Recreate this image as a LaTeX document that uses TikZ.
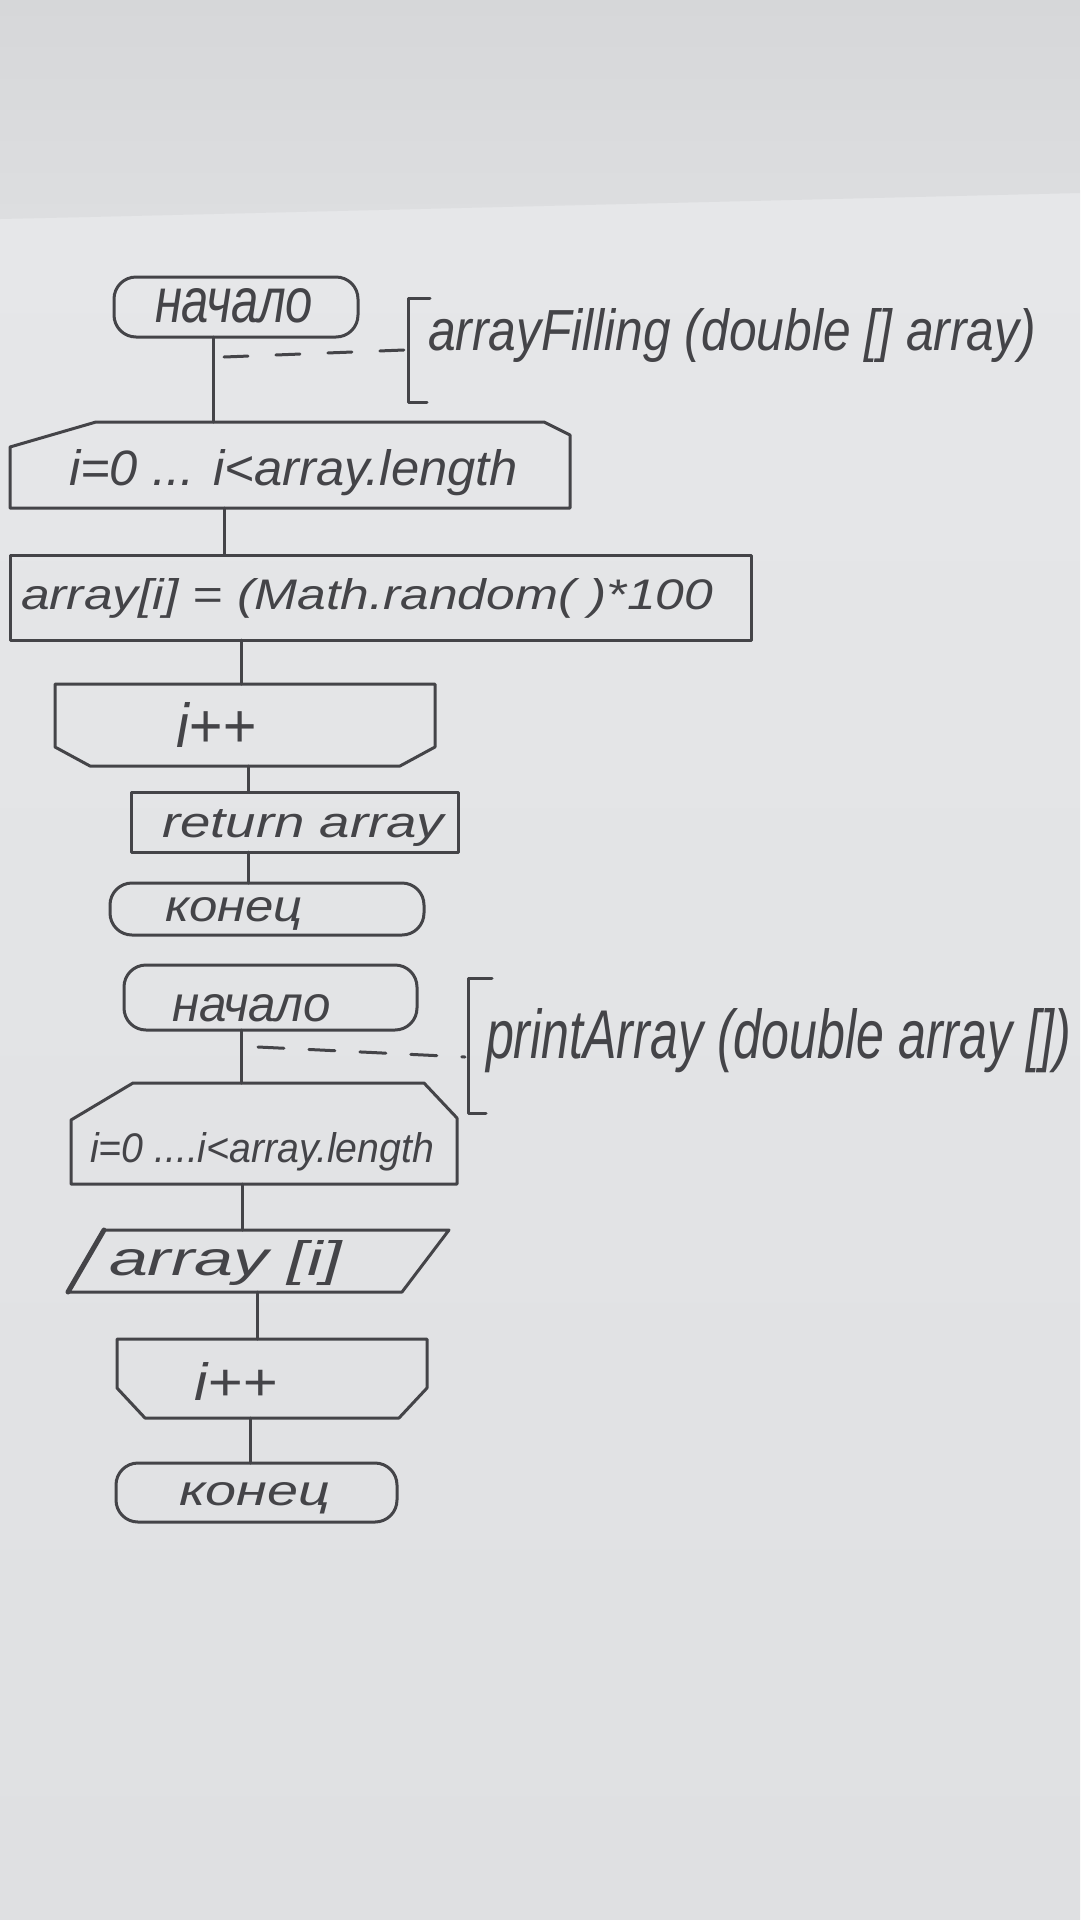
\documentclass[tikz,border=0pt]{standalone}
\usepackage{fontspec}
\setmainfont{Liberation Sans}
\usepackage{graphicx}
\usetikzlibrary{calc}
\definecolor{ink}{RGB}{68,68,72}
\definecolor{bgtop}{RGB}{214,215,217}
\definecolor{bgtopb}{RGB}{221,222,224}
\definecolor{bgmid}{RGB}{230,231,233}
\definecolor{bgbot}{RGB}{223,224,226}
\newcommand{\hw}[3]{\resizebox{#1pt}{#2pt}{\itshape #3}}
\tikzset{
  outl/.style={draw=ink, line width=3pt, line join=round, line cap=round},
  term/.style={outl, rounded corners=22pt, inner sep=0pt, outer sep=0pt},
  proc/.style={outl, inner sep=0pt, outer sep=0pt},
  ghost/.style={draw=none, inner sep=0pt, outer sep=0pt},
  conn/.style={draw=ink, line width=3pt, line cap=round},
  annot/.style={draw=ink, line width=3pt, line cap=round, dash pattern=on 24pt off 28pt},
  brack/.style={draw=ink, line width=3pt, line join=round, line cap=round},
  txt/.style={inner sep=0pt, outer sep=0pt, text=ink, anchor=base west}
}
\begin{document}
\begin{tikzpicture}[x=1pt, y=-1pt]
\useasboundingbox (0,0) rectangle (1080,1920);
% paper
\shade[top color=bgmid, middle color=bgmid, bottom color=bgbot] (0,190) rectangle (1080,1920);
\shade[top color=bgtop, bottom color=bgtopb] (0,0) -- (1080,0) -- (1080,193) -- (90,217) -- (0,219) -- cycle;

% ---------- first algorithm ----------
\node[term, minimum width=244pt, minimum height=60pt] (N1) at (236,307) {};
\node[txt] (tN1) at (155,322) {\hw{158}{34}{начало}};

\node[ghost, minimum width=560pt, minimum height=86pt] (L1) at (290,465) {};
\draw[outl] (L1.south west) -- ([yshift=-25pt]L1.north west) -- ([xshift=86pt]L1.north west)
  -- ([xshift=-26pt]L1.north east) -- ([yshift=-13pt]L1.north east) -- (L1.south east) -- cycle;
\node[txt] (tL1) at (69,485) {\hw{449}{36}{i=0 ... i<array.length}};

\node[proc, minimum width=741pt, minimum height=85pt] (P1) at (380.5,597.5) {};
\node[txt] (tP1) at (21,609) {\hw{692}{31}{array[i] = (Math.random( )*100}};

\node[ghost, minimum width=380pt, minimum height=82pt] (E1) at (245,725) {};
\draw[outl] (E1.north west) -- (E1.north east) -- ([yshift=19pt]E1.south east)
  -- ([xshift=-35pt]E1.south east) -- ([xshift=35pt]E1.south west) -- ([yshift=19pt]E1.south west) -- cycle;
\node[txt] (tE1) at (176,747) {\hw{80}{45}{i++}};

\node[proc, minimum width=327pt, minimum height=60pt] (R1) at (294.5,822) {};
\node[txt] (tR1) at (162,837) {\hw{282}{28}{return array}};

\node[term, minimum width=314pt, minimum height=52pt] (K1) at (267,909) {};
\node[txt] (tK1) at (165,921) {\hw{138}{24}{конец}};

\draw[conn] ([xshift=-23pt]N1.south) -- ([xshift=-23pt]N1.south |- L1.north);
\draw[conn] ([xshift=-66pt]L1.south) -- ([xshift=-66pt]L1.south |- P1.north);
\draw[conn] ([xshift=-139.5pt]P1.south) -- ([xshift=-139.5pt]P1.south |- E1.north);
\draw[conn] ([xshift=3pt]E1.south) -- ([xshift=3pt]E1.south |- R1.north);
\draw[conn] ([xshift=-46.5pt]R1.south) -- ([xshift=-46.5pt]R1.south |- K1.north);

% annotation 1
\coordinate (d1s) at (224,357);
\coordinate (d1e) at (404,350);
\draw[annot] (d1s) -- (d1e);
\draw[brack] (430,298) -- (408,298) -- (408,402) -- (427,402);
\node[txt] (tA1) at (428,350) {\hw{608}{42}{arrayFilling (double [] array)}};

% ---------- second algorithm ----------
\node[term, minimum width=293pt, minimum height=65pt] (N2) at (270.5,997.5) {};
\node[txt] (tN2) at (172,1021) {\hw{159}{27}{начало}};

\node[ghost, minimum width=386pt, minimum height=101pt] (L2) at (264,1133.5) {};
\draw[outl] (L2.south west) -- ([yshift=-37pt]L2.north west) -- ([xshift=62pt]L2.north west)
  -- ([xshift=-33pt]L2.north east) -- ([yshift=-35pt]L2.north east) -- (L2.south east) -- cycle;
\node[txt] (tL2) at (90,1162) {\hw{344}{30}{i=0 ....i<array.length}};

\node[ghost, minimum width=381pt, minimum height=62pt] (O1) at (258.5,1261) {};
\draw[outl] (O1.south west) -- ([xshift=36pt]O1.north west) -- (O1.north east)
  -- ([xshift=-47pt]O1.south east) -- cycle;
\draw[outl, line width=5pt] (O1.south west) -- ([xshift=36pt]O1.north west);
\node[txt] (tO1) at (109,1275) {\hw{233}{35}{array [i]}};

\node[ghost, minimum width=310pt, minimum height=79pt] (E2) at (272,1378.5) {};
\draw[outl] (E2.north west) -- (E2.north east) -- ([yshift=30pt]E2.south east)
  -- ([xshift=-28pt]E2.south east) -- ([xshift=28pt]E2.south west) -- ([yshift=30pt]E2.south west) -- cycle;
\node[txt] (tE2) at (194,1400) {\hw{83}{38}{i++}};

\node[term, minimum width=281pt, minimum height=59pt] (K2) at (256.5,1492.5) {};
\node[txt] (tK2) at (179,1505) {\hw{151}{23}{конец}};

\draw[conn] ([xshift=-29.5pt]N2.south) -- ([xshift=-29.5pt]N2.south |- L2.north);
\draw[conn] ([xshift=-22pt]L2.south) -- ([xshift=-22pt]L2.south |- O1.north);
\draw[conn] ([xshift=-1.5pt]O1.south) -- ([xshift=-1.5pt]O1.south |- E2.north);
\draw[conn] ([xshift=-22pt]E2.south) -- ([xshift=-22pt]E2.south |- K2.north);

% annotation 2
\coordinate (d2s) at (258,1047);
\coordinate (d2e) at (465,1057);
\draw[annot, dash pattern=on 26pt off 25pt] (d2s) -- (d2e);
\draw[brack] (492,978) -- (468,978) -- (468,1113) -- (486,1113);
\node[txt] (tA2) at (486,1058) {\hw{585}{50}{printArray (double array [])}};
\end{tikzpicture}
\end{document}
